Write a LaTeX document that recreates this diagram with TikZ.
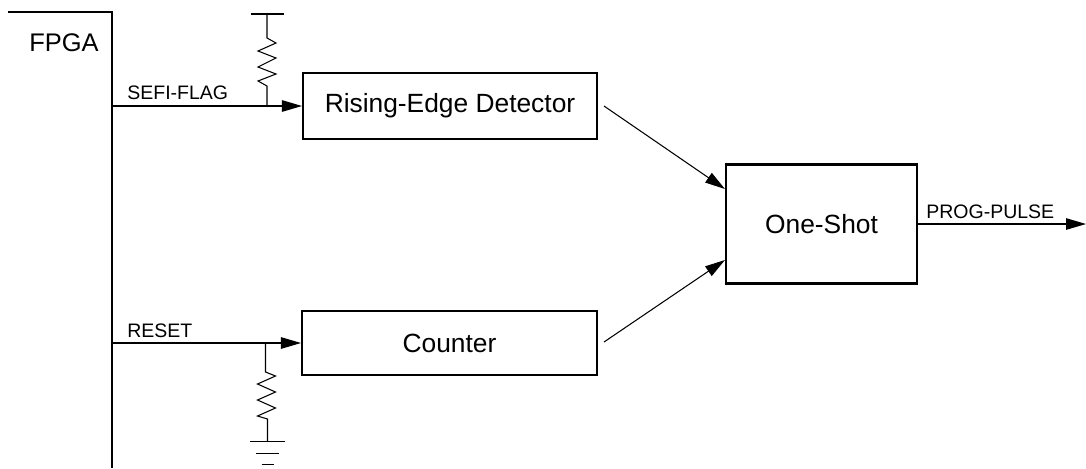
\documentclass[tikz,border=0pt]{standalone}
\usepackage{fontspec}
\setmainfont{Liberation Sans}
\usetikzlibrary{arrows.meta}
\tikzset{
  blockbox/.style={draw,line width=1.2pt,inner sep=0pt,font=\fontsize{15}{18}\selectfont},
  signame/.style={inner sep=0pt,anchor=base west,font=\fontsize{11.1}{13}\selectfont},
  wire/.style={line width=0.6pt},
  sigarrow/.style={wire,-{Triangle[length=0.4cm,width=0.23cm]}}
}
\begin{document}
\begin{tikzpicture}[x=0.02cm,y=-0.02cm]
\useasboundingbox (0,0) rectangle (1086,468);
%\draw[help lines,step=100](0,0)grid(1086,468);
\draw[line width=1.2pt] (8,12)--(112,12)--(112,468);
\node[font=\fontsize{14.5}{16}\selectfont,inner sep=0pt,anchor=base west] (fpga) at (29,51) {FPGA};

\node[blockbox,minimum width=5.88cm,minimum height=1.32cm] (detector) at (450,106) {Rising-Edge Detector};
\node[blockbox,minimum width=5.9cm,minimum height=1.28cm] (counter) at (449.5,343) {Counter};
\node[blockbox,minimum width=3.82cm,minimum height=2.38cm] (oneshot) at (821.5,224) {One-Shot};

\coordinate (flagout) at (112,106);
\coordinate (resetout) at (112,343);
\coordinate (flagtap) at (267,106);
\coordinate (resettap) at (265.5,343);
\coordinate (vcc) at (267,14);
\coordinate (gnd) at (267.5,441.5);
\coordinate (detectorout) at (604,106);
\coordinate (counterout) at (604,342);
\coordinate (oneshotupper) at (oneshot.west|-0,189);
\coordinate (oneshotlower) at (oneshot.west|-0,260);
\coordinate (pulseend) at (1086,224);

\node[signame] (flaglabel) at (127,99) {SEFI-FLAG};
\node[signame] (resetlabel) at (127,337) {RESET};
\node[signame] (pulselabel) at (926,218) {PROG-PULSE};

\draw[sigarrow] (flagout)--(detector.west);
\draw[sigarrow] (resetout)--(counter.west);
\draw[sigarrow] (detectorout)--(oneshotupper);
\draw[sigarrow] (counterout)--(oneshotlower);
\draw[sigarrow] (oneshot.east|-pulseend)--(pulseend);

% pull-up
\draw[wire] (vcc)++(-16.5,0)--++(33,0);
\draw[wire] (vcc)--++(0,24)--++(9,5)--++(-18,8)--++(18,7)--++(-18,9)--++(18,7)--++(-18,7)--++(9,5)--(flagtap);
% pull-down
\draw[wire] (resettap)--++(0,29)--++(10,4)--++(-18,8)--++(18,8)--++(-18,8)--++(18,8)--++(-18,8)--++(10,3)--(gnd);
\draw[wire] (gnd)++(-17.5,0)--++(35,0);
\draw[wire] (gnd)++(-11.5,12)--++(23,0);
\draw[wire] (gnd)++(-6,23)--++(12,0);
\end{tikzpicture}
\end{document}
